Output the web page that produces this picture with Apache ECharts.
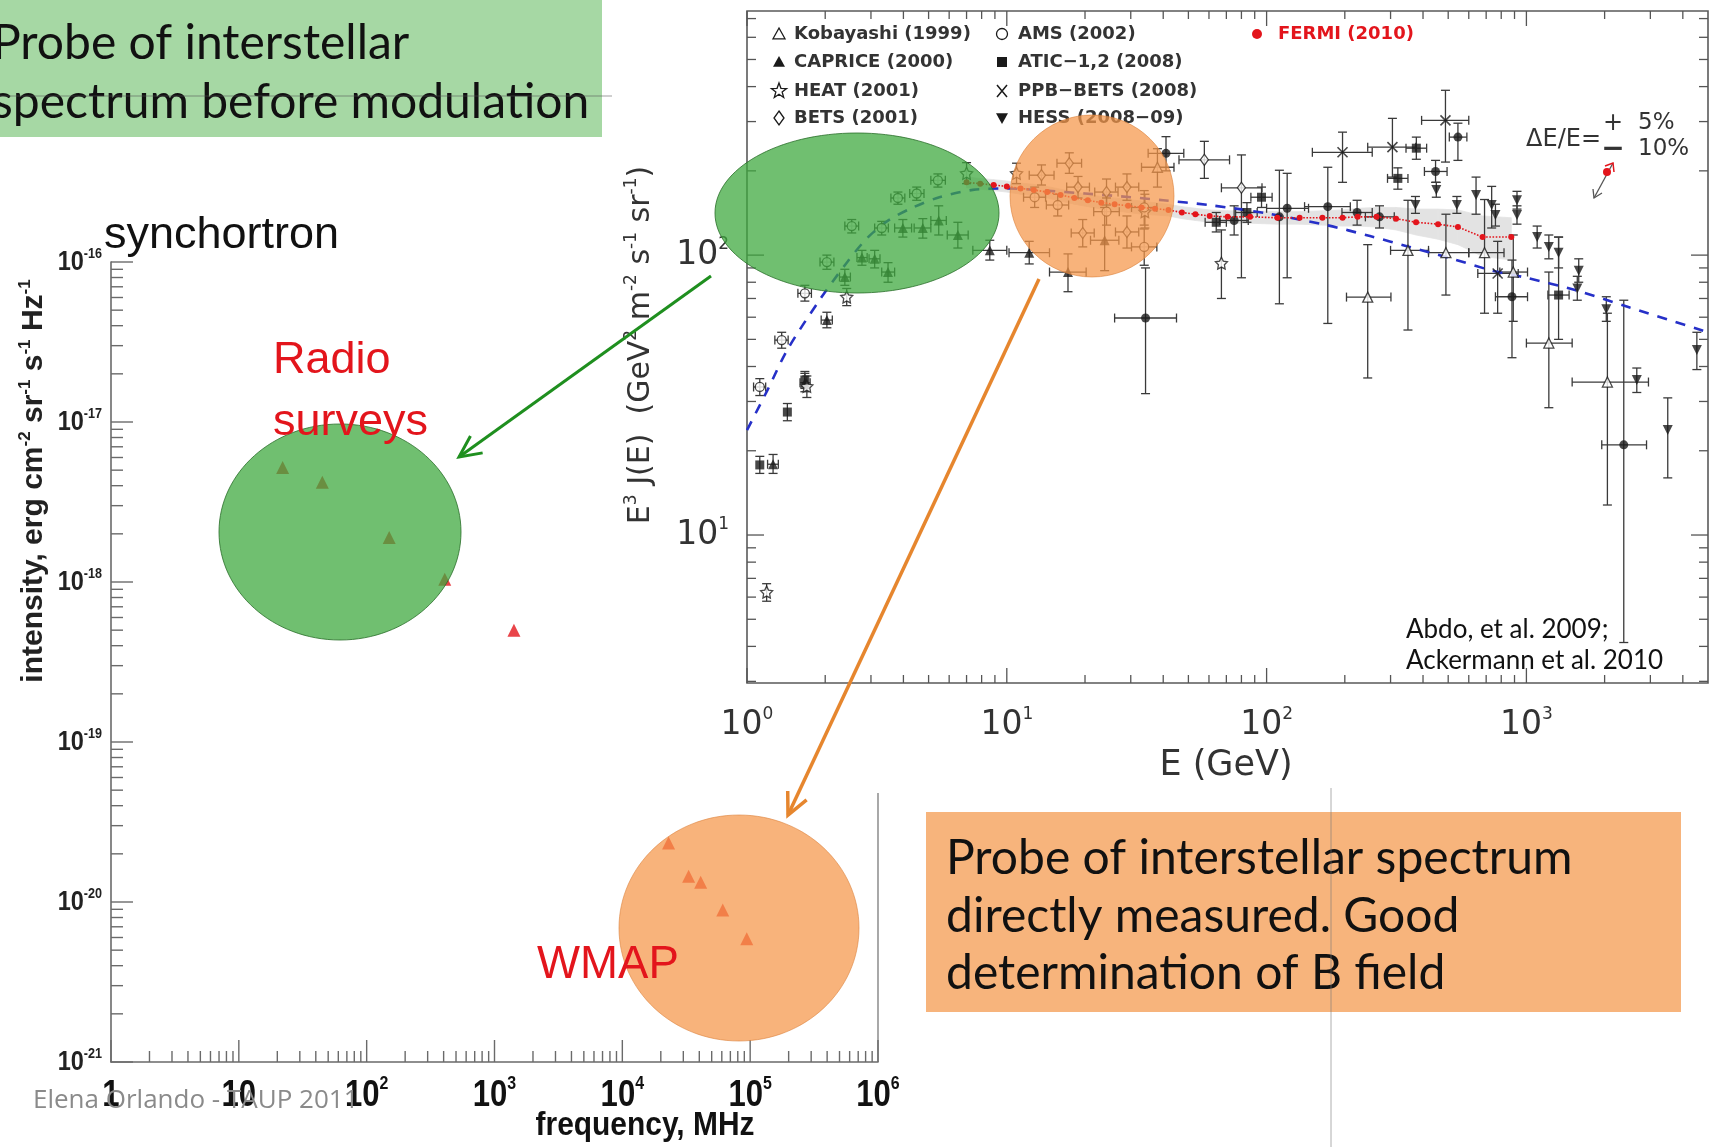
<!DOCTYPE html>
<html>
<head>
<meta charset="utf-8">
<script src="https://cdn.jsdelivr.net/npm/echarts@6/dist/echarts.min.js"></script>
<style>
  html, body { margin: 0; padding: 0; background: #ffffff; }
  #main { width: 1715px; height: 1147px; }
</style>
</head>
<body>
<div id="main"></div>
<script>
// ---------- Synchrotron panel (frequency vs. intensity) ----------
const radioFreqMHz = [22, 45, 150, 408, 1420];
const radioIntensity = [5.2e-18, 4.2e-18, 1.9e-18, 1.04e-18, 5.0e-19];
const wmapFreqMHz = [23000, 33000, 41000, 61000, 94000];
const wmapIntensity = [2.34e-20, 1.45e-20, 1.33e-20, 8.9e-21, 5.9e-21];

const freqTicks = [1, 10, 100, 1e3, 1e4, 1e5, 1e6];
const freqTickLabels = ['1', '10', '10{s|2}', '10{s|3}', '10{s|4}', '10{s|5}', '10{s|6}'];
const intensityTicks = [1e-21, 1e-20, 1e-19, 1e-18, 1e-17, 1e-16];
const intensityTickLabels = ['10{s|-21}', '10{s|-20}', '10{s|-19}', '10{s|-18}', '10{s|-17}', '10{s|-16}'];

// ---------- Electron spectrum panel (E vs. E^3 J(E)) ----------
const energyTicks = [1, 10, 100, 1000];
const energyTickLabels = ['10{s|0}', '10{s|1}', '10{s|2}', '10{s|3}'];
const fluxTicks = [10, 100];
const fluxTickLabels = ['10{s|1}', '10{s|2}'];

// rows: [E (GeV), E^3 J, lower, upper, E low, E high]
const kobayashi = [
  [38, 206, 175, 240, 33, 44],
  [245, 70.8, 36.4, 109, 203, 301],
  [350, 104, 54, 157, 300, 420],
  [490, 102, 72, 140, 420, 600],
  [690, 102, 62, 158, 600, 820],
  [890, 87, 58, 118, 790, 1010],
  [1220, 48.5, 28.5, 87, 1000, 1500],
  [2050, 35.2, 12.8, 62, 1500, 2950]
];
const caprice = [
  [1.26, 17.9, 16.6, 19.4, 1.2, 1.32],
  [1.67, 35.0, 32.5, 37.8, 1.6, 1.75],
  [2.03, 58.6, 55, 62.5, 1.93, 2.13],
  [2.38, 83.5, 78, 89, 2.27, 2.5],
  [2.77, 98, 92, 104, 2.65, 2.9],
  [3.1, 97, 90, 104, 2.95, 3.25],
  [3.49, 87, 80, 94, 3.3, 3.7],
  [3.98, 125, 116, 134, 3.7, 4.3],
  [4.75, 125, 115, 135, 4.4, 5.1],
  [5.47, 133, 118, 150, 5.1, 5.85],
  [6.48, 118, 106, 131, 5.9, 7.1],
  [8.6, 104, 96, 113, 7.4, 10],
  [12.2, 102, 93, 112, 10.2, 14.6],
  [17.2, 87, 74, 101, 14.6, 20.2],
  [23.8, 113, 88, 148, 21, 27]
];
const heat = [
  [1.19, 6.25, 5.8, 6.7, null, null],
  [1.7, 34, 31, 37, null, null],
  [2.42, 70.9, 66, 76, null, null],
  [7.0, 196, 180, 214, null, null],
  [10.9, 196, 180, 213, null, null],
  [34, 143, 125, 165, null, null],
  [67, 93.6, 70, 123, null, null]
];
const bets = [
  [13.6, 193, 178, 210, 12.2, 15.2],
  [17.4, 213, 196, 232, 15.6, 19.4],
  [18.8, 175, 160, 191, 17, 20.8],
  [19.6, 120, 107, 134, 17.7, 21.7],
  [24.2, 168, 151, 187, 21.8, 26.8],
  [29, 175, 157, 195, 26.2, 32.2],
  [29, 121, 106, 138, 26.2, 32.2],
  [57.6, 219, 188, 255, 46, 72],
  [80, 174, 83, 228, 67, 96]
];
const ams = [
  [1.12, 33.8, 31.5, 36.2, 1.06, 1.18],
  [1.36, 49.7, 46.5, 53, 1.28, 1.44],
  [1.67, 73, 68.5, 78, 1.57, 1.77],
  [2.03, 94.4, 89, 100, 1.91, 2.16],
  [2.53, 127, 120, 134, 2.38, 2.69],
  [3.3, 125, 118, 132, 3.1, 3.5],
  [3.81, 160, 152, 168, 3.58, 4.05],
  [4.5, 166, 157, 175, 4.23, 4.8],
  [5.43, 185, 175, 195, 5.1, 5.8],
  [12.8, 161, 148, 175, 11.6, 14.1],
  [15.7, 151, 138, 165, 14.2, 17.3],
  [24.2, 143, 128, 160, 21.6, 27.1],
  [33.8, 148, 128, 170, 30.2, 37.8],
  [33.8, 107, 92, 124, 30.2, 37.8]
];
const atic = [
  [1.12, 17.8, 16.6, 19.1, null, null],
  [1.43, 27.5, 25.6, 29.5, null, null],
  [1.67, 35.8, 33.4, 38.4, null, null],
  [64, 131, 121, 142, 58, 70],
  [84, 142, 131, 154, 76, 92],
  [95.6, 161, 148, 175, 87, 105],
  [320, 188, 172, 205, 292, 350],
  [377, 241, 220, 264, 344, 413],
  [1330, 72, 50, 116, 1210, 1460]
];
const ppbBets = [
  [196, 233, 182, 275, 150, 255],
  [305, 243, 190, 308, 245, 375],
  [488, 303, 215, 388, 395, 600],
  [775, 86, 62, 112, 650, 930]
];
const hess = [
  [374, 151, 141, 162, null, null],
  [450, 171, 161, 182, null, null],
  [540, 151, 141, 162, null, null],
  [640, 164, 140, 190, null, null],
  [735, 151, 125, 176, null, null],
  [760, 139, 127, 152, null, null],
  [920, 157, 146, 169, null, null],
  [920, 139, 129, 150, null, null],
  [1100, 116, 106, 127, null, null],
  [1220, 107, 97, 118, null, null],
  [1330, 102, 90, 116, null, null],
  [1590, 88, 80, 97, null, null],
  [1570, 76, 69, 84, null, null],
  [2030, 64, 58, 71, null, null],
  [2660, 35.8, 32.3, 39.5, null, null],
  [3500, 23.7, 16, 30.9, null, null],
  [4530, 45.8, 39, 53, null, null]
];
const lat2009 = [
  [34.2, 59.6, 32, 90, 26, 45],
  [41, 231, 200, 265, 35, 48],
  [75, 133, 118, 150, 66, 85],
  [112, 137, 67, 201, null, null],
  [120, 147, 83, 196, 100, 145],
  [172, 149, 57, 206, 140, 210],
  [223, 142, 128, 157, 195, 255],
  [272, 137, 125, 150, 240, 310],
  [447, 199, 182, 218, 405, 495],
  [545, 264, 218, 296, 505, 590],
  [880, 71, 43, 96, 760, 1010],
  [2370, 21, 4.13, 69, 1950, 2900]
];
const fermiE = [7.0, 7.9, 8.9, 10.0, 11.3, 12.7, 14.3, 16.1, 18.2, 20.5, 23.1, 26.0, 29.3, 33.0, 37.2, 41.9, 47.2, 53.2,
  60.4, 70.8, 86.4, 110, 134, 164, 196, 224, 265, 315, 376, 457, 545, 678, 875];
const fermiJ = [182, 180, 178, 176, 173, 171, 168, 164, 160, 157, 154, 152, 150, 148, 146.5, 145, 142, 140,
  138, 137, 137, 136, 136, 136, 136, 137, 137, 135, 131, 129, 126, 116, 116];
const fermiLo = [174, 172, 170, 168, 165, 163, 160, 156, 152, 149, 146, 144, 142, 140, 139, 138, 135, 133,
  131, 130, 130, 129, 129, 128, 127, 127, 126, 123, 118, 114, 109, 99, 96];
const fermiHi = [190, 188, 186, 184, 181, 179, 176, 172, 168, 165, 162, 160, 158, 156, 154, 152, 149, 147,
  145, 144, 144, 143, 143, 144, 145, 147, 148, 148, 146, 146, 145, 138, 136];
const modelE = [1, 1.2, 1.43, 1.9, 2.4, 2.9, 3.5, 4.35, 5.5, 7.4, 10, 14, 20, 30, 40, 60, 100, 170, 250, 355, 500, 740, 1000, 1540, 2500, 5000];
const modelJ = [23.7, 33, 45.9, 69, 93, 115, 133, 148, 161, 171, 173, 170, 166, 161, 157, 151, 141, 128, 117, 107, 98, 88, 83, 75, 65, 53];

// ---------- helpers ----------
const LEFT_X = [1, 1e6], LEFT_Y = [1e-21, 1e-16];
const RIGHT_X = [1, 5000], RIGHT_Y = [2.96, 745];
const INK = '#1a1a1a';

function minorValues(lo, hi) {
  const out = [];
  for (let k = Math.floor(Math.log10(lo)) - 1; k <= Math.ceil(Math.log10(hi)); k++) {
    for (let m = 2; m <= 9; m++) {
      const v = m * Math.pow(10, k);
      if (v > lo * 1.0001 && v < hi * 0.9999) out.push(v);
    }
  }
  return out;
}

// Inward ticks plus tick labels, placed through the axis scales
function frameTicks(cfg) {
  const items = [];
  cfg.xMajor.forEach((v, i) => items.push({ a: 'x', v, len: cfg.xMajorLen, label: cfg.xLabels[i] }));
  minorValues(cfg.xRange[0], cfg.xRange[1]).forEach(v => items.push({ a: 'x', v, len: cfg.xMinorLen }));
  cfg.yMajor.forEach((v, i) => items.push({ a: 'y', v, len: cfg.yMajorLen, label: cfg.yLabels[i] }));
  minorValues(cfg.yRange[0], cfg.yRange[1]).forEach(v => items.push({ a: 'y', v, len: cfg.yMinorLen }));
  return {
    type: 'custom', xAxisIndex: cfg.grid, yAxisIndex: cfg.grid, clip: false, silent: true, z: 8,
    data: items.map(t => (t.a === 'x' ? [t.v, cfg.yRange[0]] : [cfg.xRange[0], t.v])),
    renderItem(params, api) {
      const t = items[params.dataIndex];
      const cs = params.coordSys;
      const ls = { stroke: cfg.color, lineWidth: cfg.width };
      const kids = [];
      if (t.a === 'x') {
        const x = api.coord([t.v, cfg.yRange[0]])[0];
        const b = cs.y + cs.height;
        kids.push({ type: 'line', shape: { x1: x, y1: b, x2: x, y2: b - t.len }, style: ls });
        if (cfg.mirror) kids.push({ type: 'line', shape: { x1: x, y1: cs.y, x2: x, y2: cs.y + t.len }, style: ls });
        if (t.label) kids.push({ type: 'text', x: x, y: b + cfg.xLabelGap, scaleX: cfg.labelScaleX || 1,
          style: Object.assign({ text: t.label, align: 'center', verticalAlign: 'middle' }, cfg.xLabelStyle) });
      } else {
        const y = api.coord([cfg.xRange[0], t.v])[1];
        kids.push({ type: 'line', shape: { x1: cs.x, y1: y, x2: cs.x + t.len, y2: y }, style: ls });
        if (cfg.mirror) kids.push({ type: 'line', shape: { x1: cs.x + cs.width, y1: y, x2: cs.x + cs.width - t.len, y2: y }, style: ls });
        if (t.label) kids.push({ type: 'text', x: cs.x - cfg.yLabelGap, y: y, scaleX: cfg.labelScaleX || 1,
          style: Object.assign({ text: t.label, align: 'right', verticalAlign: 'middle' }, cfg.yLabelStyle) });
      }
      return { type: 'group', children: kids };
    }
  };
}

function supStyle(base, sup, weight, family, color) {
  return {
    fill: color, fontSize: base, fontWeight: weight, fontFamily: family, lineHeight: Math.round(base * 1.15),
    rich: { s: { fill: color, fontSize: sup, fontWeight: weight, fontFamily: family, lineHeight: sup + 1, verticalAlign: 'top' } }
  };
}

// Error bars with end caps for one data set
function errorBars(rows, color) {
  return {
    type: 'custom', xAxisIndex: 1, yAxisIndex: 1, clip: false, silent: true, z: 3,
    data: rows.map(r => [r[0], r[1]]),
    renderItem(params, api) {
      const r = rows[params.dataIndex];
      const st = { stroke: color, lineWidth: 1.3 };
      const cap = 4.5;
      const kids = [];
      if (r[2] != null) {
        const a = api.coord([r[0], r[2]]), b = api.coord([r[0], r[3]]);
        kids.push({ type: 'line', shape: { x1: a[0], y1: a[1], x2: b[0], y2: b[1] }, style: st });
        kids.push({ type: 'line', shape: { x1: a[0] - cap, y1: a[1], x2: a[0] + cap, y2: a[1] }, style: st });
        kids.push({ type: 'line', shape: { x1: b[0] - cap, y1: b[1], x2: b[0] + cap, y2: b[1] }, style: st });
      }
      if (r[4] != null) {
        const a = api.coord([r[4], r[1]]), b = api.coord([r[5], r[1]]);
        kids.push({ type: 'line', shape: { x1: a[0], y1: a[1], x2: b[0], y2: b[1] }, style: st });
        kids.push({ type: 'line', shape: { x1: a[0], y1: a[1] - cap, x2: a[0], y2: a[1] + cap }, style: st });
        kids.push({ type: 'line', shape: { x1: b[0], y1: b[1] - cap, x2: b[0], y2: b[1] + cap }, style: st });
      }
      return { type: 'group', children: kids };
    }
  };
}

const STAR_PATH = 'path://M0,-10L2.94,-4.05L9.51,-3.09L4.76,1.55L5.88,8.09L0,5L-5.88,8.09L-4.76,1.55L-9.51,-3.09L-2.94,-4.05Z';
const CROSS_PATH = 'path://M0,0L10,10M10,0L0,10';
const openStyle = { color: '#ffffff', borderColor: INK, borderWidth: 1.3 };
const fillStyle = { color: INK };

const markerSets = [
  { name: 'Kobayashi (1999)', rows: kobayashi, symbol: 'triangle', size: 10, style: openStyle },
  { name: 'CAPRICE (2000)', rows: caprice, symbol: 'triangle', size: 10, style: fillStyle },
  { name: 'HEAT (2001)', rows: heat, symbol: STAR_PATH, size: 12, style: openStyle },
  { name: 'BETS (2001)', rows: bets, symbol: 'diamond', size: [8, 11], style: openStyle },
  { name: 'AMS (2002)', rows: ams, symbol: 'circle', size: 9, style: openStyle },
  { name: 'ATIC-1,2 (2008)', rows: atic, symbol: 'rect', size: 9, style: fillStyle },
  { name: 'PPB-BETS (2008)', rows: ppbBets, symbol: CROSS_PATH, size: 10, style: { color: 'transparent', borderColor: INK, borderWidth: 1.6 } },
  { name: 'HESS (2008-09)', rows: hess, symbol: 'triangle', size: 10, rotate: 180, style: fillStyle },
  { name: 'Fermi LAT (2009)', rows: lat2009, symbol: 'circle', size: 9, style: fillStyle }
];

// ---------- series ----------
const series = [];

series.push(frameTicks({
  grid: 0, xRange: LEFT_X, yRange: LEFT_Y, color: '#6a6a6a', width: 1.4, mirror: false,
  xMajor: freqTicks, xLabels: freqTickLabels, yMajor: intensityTicks, yLabels: intensityTickLabels,
  xMajorLen: 22, xMinorLen: 11, yMajorLen: 22, yMinorLen: 12,
  xLabelGap: 34, yLabelGap: 9, labelScaleX: 0.84,
  xLabelStyle: supStyle(37, 19, 'bold', 'Liberation Sans', '#111'),
  yLabelStyle: supStyle(28, 15, 'bold', 'Liberation Sans', '#222')
}));

series.push(frameTicks({
  grid: 1, xRange: RIGHT_X, yRange: RIGHT_Y, color: '#555', width: 1.3, mirror: true,
  xMajor: energyTicks, xLabels: energyTickLabels, yMajor: fluxTicks, yLabels: fluxTickLabels,
  xMajorLen: 15, xMinorLen: 8, yMajorLen: 17, yMinorLen: 9,
  xLabelGap: 42, yLabelGap: 18,
  xLabelStyle: supStyle(33, 17, 'normal', 'DejaVu Sans', '#333'),
  yLabelStyle: supStyle(33, 17, 'normal', 'DejaVu Sans', '#333')
}));

series.push({
  type: 'scatter', name: 'Radio surveys', xAxisIndex: 0, yAxisIndex: 0, silent: true, z: 4,
  data: radioFreqMHz.map((f, i) => [f, radioIntensity[i]]),
  symbol: 'triangle', symbolSize: 13, itemStyle: { color: '#e3151c' }
});
series.push({
  type: 'scatter', name: 'WMAP', xAxisIndex: 0, yAxisIndex: 0, silent: true, z: 4,
  data: wmapFreqMHz.map((f, i) => [f, wmapIntensity[i]]),
  symbol: 'triangle', symbolSize: 13, itemStyle: { color: '#e3151c' }
});

// Fermi systematic band
series.push({
  type: 'custom', name: 'FERMI band', xAxisIndex: 1, yAxisIndex: 1, clip: true, silent: true, z: 1,
  data: fermiE.slice(0, -1).map((e, i) => [e, fermiJ[i]]),
  renderItem(params, api) {
    const i = params.dataIndex;
    const pts = [
      api.coord([fermiE[i], fermiLo[i]]), api.coord([fermiE[i + 1], fermiLo[i + 1]]),
      api.coord([fermiE[i + 1], fermiHi[i + 1]]), api.coord([fermiE[i], fermiHi[i]])
    ];
    return { type: 'polygon', shape: { points: pts }, style: { fill: '#e3e3e3', stroke: '#e3e3e3', lineWidth: 0.8 } };
  }
});

markerSets.forEach(m => series.push(errorBars(m.rows, '#3a3a3a')));

series.push({
  type: 'line', name: 'model', xAxisIndex: 1, yAxisIndex: 1, silent: true, z: 5,
  data: modelE.map((e, i) => [e, modelJ[i]]), showSymbol: false, symbol: 'none', smooth: 0.3,
  lineStyle: { color: '#2630c8', width: 2.6, type: [10, 9] }
});

markerSets.forEach(m => series.push({
  type: 'scatter', name: m.name, xAxisIndex: 1, yAxisIndex: 1, silent: true, z: 6,
  data: m.rows.map(r => [r[0], r[1]]), symbol: m.symbol, symbolSize: m.size,
  symbolRotate: m.rotate || 0, itemStyle: m.style
}));

series.push({
  type: 'line', name: 'FERMI (2010)', xAxisIndex: 1, yAxisIndex: 1, silent: true, z: 7,
  data: fermiE.map((e, i) => [e, fermiJ[i]]), symbol: 'circle', symbolSize: 6, showSymbol: true,
  itemStyle: { color: '#e3151c' }, lineStyle: { color: '#e3151c', width: 1.6, type: 'dotted' }
});

// ---------- annotations ----------
const COMIC = "Lato, 'Open Sans', sans-serif";
function arrow(x1, y1, x2, y2, color, w) {
  const ang = Math.atan2(y2 - y1, x2 - x1), L = 24, spread = 0.45;
  const p1 = [x2 - L * Math.cos(ang - spread), y2 - L * Math.sin(ang - spread)];
  const p2 = [x2 - L * Math.cos(ang + spread), y2 - L * Math.sin(ang + spread)];
  return [
    { type: 'line', z: 120, shape: { x1, y1, x2, y2 }, style: { stroke: color, lineWidth: w } },
    { type: 'polyline', z: 120, shape: { points: [p1, [x2, y2], p2] }, style: { stroke: color, lineWidth: w, fill: null } }
  ];
}
function legendMarker(kind, cx, cy) {
  const h = 6;
  const open = { fill: '#fff', stroke: INK, lineWidth: 1.3 };
  const fill = { fill: INK };
  if (kind === 'triOpen' || kind === 'tri') return { type: 'polygon', z: 20, shape: { points: [[cx, cy - h], [cx + h, cy + h * 0.8], [cx - h, cy + h * 0.8]] }, style: kind === 'tri' ? fill : open };
  if (kind === 'triDown') return { type: 'polygon', z: 20, shape: { points: [[cx, cy + h], [cx + h, cy - h * 0.8], [cx - h, cy - h * 0.8]] }, style: fill };
  if (kind === 'star') {
    const pts = [];
    for (let k = 0; k < 10; k++) {
      const r = k % 2 ? 3.3 : 8, a = -Math.PI / 2 + k * Math.PI / 5;
      pts.push([cx + r * Math.cos(a), cy + r * Math.sin(a)]);
    }
    return { type: 'polygon', z: 20, shape: { points: pts }, style: open };
  }
  if (kind === 'diamond') return { type: 'polygon', z: 20, shape: { points: [[cx, cy - 7], [cx + 5, cy], [cx, cy + 7], [cx - 5, cy]] }, style: open };
  if (kind === 'circle') return { type: 'circle', z: 20, shape: { cx, cy, r: 5.5 }, style: open };
  if (kind === 'square') return { type: 'rect', z: 20, shape: { x: cx - 5, y: cy - 5, width: 10, height: 10 }, style: fill };
  if (kind === 'cross') return { type: 'polyline', z: 20, shape: { points: [[cx - 5, cy - 6], [cx + 5, cy + 6], [cx, cy], [cx + 5, cy - 6], [cx - 5, cy + 6]] }, style: { stroke: INK, lineWidth: 1.5, fill: null } };
  return { type: 'circle', z: 20, shape: { cx, cy, r: 5 }, style: { fill: '#e3151c' } };
}
const legendFont = { fontSize: 18, fontWeight: 'bold', fontFamily: 'DejaVu Sans', fill: '#333' };
const legendRows = [
  ['triOpen', 779, 34, 'Kobayashi (1999)', 794], ['tri', 779, 62, 'CAPRICE (2000)', 794],
  ['star', 779, 91, 'HEAT (2001)', 794], ['diamond', 779, 118, 'BETS (2001)', 794],
  ['circle', 1002, 34, 'AMS (2002)', 1018], ['square', 1002, 62, 'ATIC\u22121,2 (2008)', 1018],
  ['cross', 1002, 91, 'PPB\u2212BETS (2008)', 1018], ['triDown', 1002, 118, 'HESS (2008\u221209)', 1018]
];

const graphics = [
  // headline box
  { type: 'rect', z: 1, shape: { x: 0, y: 0, width: 602, height: 137 }, style: { fill: '#a6d8a4' } },
  { type: 'text', z: 2, x: -8, y: 44, style: { text: 'Probe of interstellar', fontSize: 48, fontFamily: COMIC, fill: '#111', verticalAlign: 'middle' } },
  { type: 'text', z: 2, x: -8, y: 103, style: { text: 'spectrum before modulation', fontSize: 48, fontFamily: COMIC, fill: '#111', verticalAlign: 'middle' } },
  { type: 'line', z: 3, shape: { x1: 0, y1: 96, x2: 612, y2: 96 }, style: { stroke: 'rgba(80,80,80,0.55)', lineWidth: 1 } },

  // synchrotron panel texts
  { type: 'text', z: 20, x: 104, y: 236, style: { text: 'synchortron', fontSize: 45, fontFamily: 'Liberation Sans', fill: '#111', verticalAlign: 'middle' } },
  { type: 'text', z: 20, x: 34, y: 481, rotation: Math.PI / 2,
    style: Object.assign({ text: 'intensity, erg cm{s|-2} sr{s|-1} s{s|-1} Hz{s|-1}', align: 'center', verticalAlign: 'middle' }, supStyle(30, 17, 'bold', 'Liberation Sans', '#222')) },
  { type: 'text', z: 20, x: 645, y: 1126, scaleX: 0.88, style: { text: 'frequency, MHz', fontSize: 34, fontWeight: 'bold', fontFamily: 'Liberation Sans', fill: '#111', align: 'center', verticalAlign: 'middle' } },
  { type: 'line', z: 5, shape: { x1: 878, y1: 793, x2: 878, y2: 1062 }, style: { stroke: '#7a7a7a', lineWidth: 1.3 } },
  { type: 'text', z: 30, x: 33, y: 1101, style: { text: 'Elena Orlando - TAUP 2011', fontSize: 26, fontFamily: "'Open Sans'", fill: '#8a8a8a', verticalAlign: 'middle' } },

  { type: 'ellipse', z: 100, shape: { cx: 340, cy: 532, rx: 121, ry: 108 }, style: { fill: 'rgba(62,168,62,0.74)', stroke: 'rgba(40,110,40,0.8)', lineWidth: 1 } },
  { type: 'ellipse', z: 100, shape: { cx: 739, cy: 928, rx: 120, ry: 113 }, style: { fill: 'rgba(245,150,72,0.72)', stroke: 'rgba(220,130,60,0.6)', lineWidth: 1 } },
  { type: 'text', z: 110, x: 273, y: 361, style: { text: 'Radio', fontSize: 45, fontFamily: 'Liberation Sans', fill: '#e3151c', verticalAlign: 'middle' } },
  { type: 'text', z: 110, x: 273, y: 423, style: { text: 'surveys', fontSize: 45, fontFamily: 'Liberation Sans', fill: '#e3151c', verticalAlign: 'middle' } },
  { type: 'text', z: 110, x: 537, y: 965, scaleX: 0.97, style: { text: 'WMAP', fontSize: 47, fontFamily: 'Liberation Sans', fill: '#e3151c', verticalAlign: 'middle' } },

  // electron spectrum panel texts
  { type: 'text', z: 20, x: 1226, y: 766, style: { text: 'E (GeV)', fontSize: 35, fontFamily: 'DejaVu Sans', fill: '#333', align: 'center', verticalAlign: 'middle' } },
  { type: 'text', z: 20, x: 641, y: 345, rotation: Math.PI / 2,
    style: Object.assign({ text: 'E{s|3} J(E)  (GeV{s|2} m{s|-2} s{s|-1} sr{s|-1})', align: 'center', verticalAlign: 'middle' }, supStyle(30, 17, 'normal', 'DejaVu Sans', '#333')) },
  { type: 'text', z: 20, x: 1601, y: 140, style: { text: '\u0394E/E=', fontSize: 24, fontFamily: 'DejaVu Sans', fill: '#333', align: 'right', verticalAlign: 'middle' } },
  { type: 'text', z: 20, x: 1613, y: 124, style: { text: '+', fontSize: 24, fontFamily: 'DejaVu Sans', fill: '#333', align: 'center', verticalAlign: 'middle' } },
  { type: 'text', z: 20, x: 1613, y: 150, style: { text: '\u2212', fontSize: 28, fontWeight: 'bold', fontFamily: 'DejaVu Sans', fill: '#333', align: 'center', verticalAlign: 'middle' } },
  { type: 'text', z: 20, x: 1638, y: 123, style: { text: '5%', fontSize: 23, fontFamily: 'DejaVu Sans', fill: '#333', verticalAlign: 'middle' } },
  { type: 'text', z: 20, x: 1638, y: 149, style: { text: '10%', fontSize: 23, fontFamily: 'DejaVu Sans', fill: '#333', verticalAlign: 'middle' } },
  { type: 'line', z: 20, shape: { x1: 1594, y1: 198, x2: 1613, y2: 163 }, style: { stroke: '#555', lineWidth: 1.3 } },
  { type: 'polyline', z: 20, shape: { points: [[1593, 189], [1594, 198], [1602, 193]] }, style: { stroke: '#555', lineWidth: 1.3, fill: null } },
  { type: 'polyline', z: 20, shape: { points: [[1605, 166], [1613, 163], [1614, 172]] }, style: { stroke: '#e3151c', lineWidth: 1.5, fill: null } },
  { type: 'circle', z: 21, shape: { cx: 1607, cy: 172, r: 4 }, style: { fill: '#e3151c' } },
  { type: 'text', z: 20, x: 1406, y: 630, style: { text: 'Abdo, et al. 2009;', fontSize: 26, fontFamily: COMIC, fill: '#111', verticalAlign: 'middle' } },
  { type: 'text', z: 20, x: 1406, y: 661, style: { text: 'Ackermann et al. 2010', fontSize: 26, fontFamily: COMIC, fill: '#111', verticalAlign: 'middle' } },
  legendMarker('fermi', 1257, 34),
  { type: 'text', z: 20, x: 1278, y: 34, style: Object.assign({}, legendFont, { text: 'FERMI (2010)', fill: '#e3151c', verticalAlign: 'middle' }) },

  { type: 'ellipse', z: 100, shape: { cx: 857, cy: 213, rx: 142, ry: 80 }, style: { fill: 'rgba(62,168,62,0.74)', stroke: 'rgba(40,110,40,0.8)', lineWidth: 1 } },
  { type: 'ellipse', z: 100, shape: { cx: 1092, cy: 196, rx: 82, ry: 81 }, style: { fill: 'rgba(245,150,72,0.72)', stroke: 'rgba(220,130,60,0.6)', lineWidth: 1 } },

  // conclusion box
  { type: 'rect', z: 1, shape: { x: 926, y: 812, width: 755, height: 200 }, style: { fill: '#f7b47c' } },
  { type: 'text', z: 2, x: 946, y: 859, style: { text: 'Probe of interstellar spectrum', fontSize: 48, fontFamily: COMIC, fill: '#111', verticalAlign: 'middle' } },
  { type: 'text', z: 2, x: 946, y: 917, style: { text: 'directly measured. Good', fontSize: 48, fontFamily: COMIC, fill: '#111', verticalAlign: 'middle' } },
  { type: 'text', z: 2, x: 946, y: 974, style: { text: 'determination of B field', fontSize: 48, fontFamily: COMIC, fill: '#111', verticalAlign: 'middle' } },
  { type: 'line', z: 3, shape: { x1: 1331, y1: 788, x2: 1331, y2: 1147 }, style: { stroke: 'rgba(120,120,120,0.6)', lineWidth: 1 } }
];
legendRows.forEach(r => {
  graphics.push(legendMarker(r[0], r[1], r[2]));
  graphics.push({ type: 'text', z: 20, x: r[4], y: r[2], style: Object.assign({}, legendFont, { text: r[3], verticalAlign: 'middle' }) });
});
graphics.push(...arrow(711, 276, 459, 457, '#1f8f1f', 3));
graphics.push(...arrow(1039, 279, 788, 815, '#e6862e', 3.5));

const hiddenAxis = {
  type: 'log', logBase: 10,
  axisLabel: { show: false }, axisTick: { show: false }, splitLine: { show: false }
};

const chart = echarts.init(document.getElementById('main'), null, { renderer: 'canvas' });
chart.setOption({
  animation: false,
  backgroundColor: '#ffffff',
  grid: [
    { left: 111, top: 262, width: 767, height: 800, show: false, outerBoundsMode: 'none', containLabel: false },
    { left: 747, top: 11, width: 961, height: 672, show: true, borderColor: '#5a5a5a', borderWidth: 1.6, backgroundColor: 'transparent', outerBoundsMode: 'none', containLabel: false }
  ],
  xAxis: [
    Object.assign({}, hiddenAxis, { gridIndex: 0, min: LEFT_X[0], max: LEFT_X[1], axisLine: { show: true, onZero: false, lineStyle: { color: '#6a6a6a', width: 1.6 } } }),
    Object.assign({}, hiddenAxis, { gridIndex: 1, min: RIGHT_X[0], max: RIGHT_X[1], axisLine: { show: false } })
  ],
  yAxis: [
    Object.assign({}, hiddenAxis, { gridIndex: 0, min: LEFT_Y[0], max: LEFT_Y[1], axisLine: { show: true, onZero: false, lineStyle: { color: '#6a6a6a', width: 1.6 } } }),
    Object.assign({}, hiddenAxis, { gridIndex: 1, min: RIGHT_Y[0], max: RIGHT_Y[1], axisLine: { show: false } })
  ],
  series: series,
  graphic: { elements: graphics }
});
</script>
</body>
</html>
